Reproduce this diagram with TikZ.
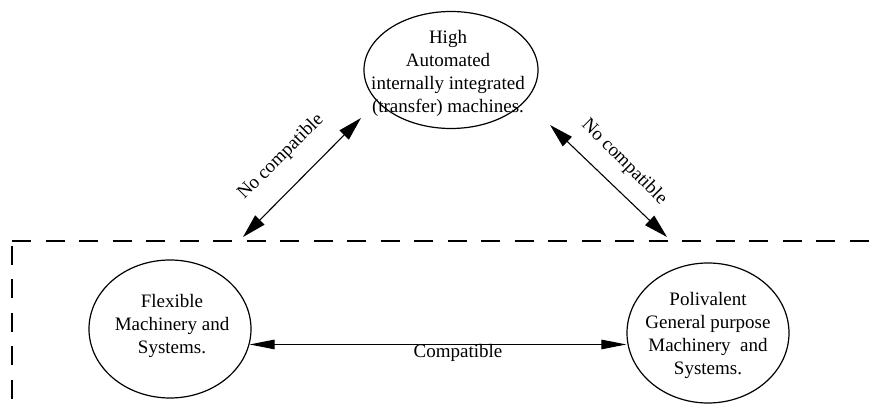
\documentclass[tikz,border=0pt]{standalone}
\usepackage{fontspec}
\setmainfont{Liberation Serif}
\usetikzlibrary{shapes.geometric,arrows.meta,calc}

\tikzset{
  oval/.style={draw, line width=1.2pt, ellipse, inner sep=0pt},
  ovaltext/.style={align=center, inner sep=0pt,
               font=\fontsize{19}{23}\selectfont},
  link/.style={line width=1.1pt, {Triangle[length=24pt,width=13pt]}-{Triangle[length=24pt,width=13pt]}},
  flatlink/.style={line width=1.1pt, {Triangle[length=25pt,width=9.5pt]}-{Triangle[length=25pt,width=9.5pt]}},
  lbl/.style={font=\fontsize{19}{23}\selectfont, inner sep=0pt},
  border/.style={line width=1.4pt, dash pattern=on 19pt off 14.5pt}
}

\begin{document}
\begin{tikzpicture}[x=1pt,y=-1pt]
  \useasboundingbox (0,0) rectangle (876,411);

  % three machine classes: fixed-size ovals with their captions
  \node[oval, minimum width=174pt, minimum height=117pt] (top) at (451,70) {};
  \node[ovaltext] (toptext) at (448,73)
    {High\\Automated\\internally integrated\\(transfer) machines.};
  \node[oval, minimum width=162pt, minimum height=138pt] (flex) at (170,329) {};
  \node[ovaltext] (flextext) at (172,326)
    {Flexible\\Machinery and\\Systems.};
  \node[oval, minimum width=162pt, minimum height=140pt] (poly) at (708,333) {};
  \node[ovaltext] (polytext) at (708,335)
    {Polivalent\\General purpose\\Machinery~ and\\Systems.};

  % dashed frame around the lower group
  \draw[border] (12,241) -- (876,241);
  \draw[border] (12,246) -- (12,411);

  % free ends of the diagonal links
  \coordinate (l1) at (243,237);
  \coordinate (l2) at (361,118);
  \coordinate (r1) at (550,125);
  \coordinate (r2) at (667,237);

  \draw[link] (l1) -- (l2);
  \draw[link] (r1) -- (r2);
  \node[lbl, rotate=45] (nl) at (281,157) {No compatible};
  \node[lbl, rotate=-45] (nr) at (624,162) {No compatible};

  % compatible link between the lower classes
  \draw[flatlink] (flex.-11) -- (flex.-11 -| poly.west);
  \node[lbl] (comp) at (458,353) {Compatible};
\end{tikzpicture}
\end{document}
